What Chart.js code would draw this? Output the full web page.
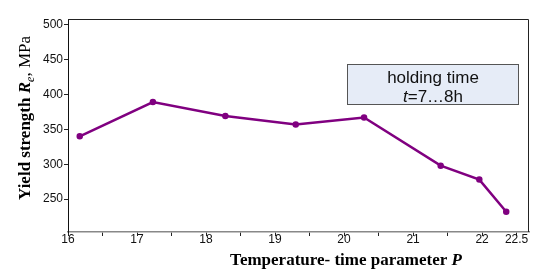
<!DOCTYPE html>
<html>
<head>
<meta charset="utf-8">
<script src="https://cdn.jsdelivr.net/npm/chart.js@4/dist/chart.umd.min.js"></script>
<style>
  body { margin: 0; background: #fff; }
</style>
</head>
<body>
<canvas id="chart" width="534" height="269"></canvas>
<script>
// values
const paramP = [16.17, 17.23, 18.28, 19.30, 20.29, 21.40, 21.96, 22.35];
const yieldStrength = [340, 389, 369, 357, 367, 298, 278, 232];
const yTicks = [250, 300, 350, 400, 450, 500];
const xLabels = [16, 17, 18, 19, 20, 21, 22, 22.5];
const noteLine1 = "holding time";
const noteLine2 = ["t", "=7…8h"];

const serif = '"Liberation Serif", "Times New Roman", serif';
const sans = '"Liberation Sans", Arial, sans-serif';

// draws a run of [text, font, dy] pieces starting at x
function drawRuns(ctx, runs, x, y) {
    runs.forEach(r => {
        ctx.font = r[1];
        ctx.fillText(r[0], x, y + (r[2] || 0));
        x += ctx.measureText(r[0]).width;
    });
}

function runsWidth(ctx, runs) {
    let w = 0;
    runs.forEach(r => {
        ctx.font = r[1];
        w += ctx.measureText(r[0]).width;
    });
    return w;
}

const extras = {
    id: "extras",
    beforeDatasetsDraw(chart) {
        const ctx = chart.ctx;
        const a = chart.chartArea;
        const x = chart.scales.x, y = chart.scales.y;
        ctx.save();

        // top and right frame
        ctx.strokeStyle = "#222";
        ctx.lineWidth = 1;
        ctx.beginPath();
        ctx.moveTo(a.left, a.top + 0.5);
        ctx.lineTo(a.right - 0.5, a.top + 0.5);
        ctx.lineTo(a.right - 0.5, a.bottom);
        ctx.stroke();

        // note box
        const bl = Math.round(x.getPixelForValue(20.04)) + 0.5;
        const br = Math.round(x.getPixelForValue(22.52)) + 0.5;
        const bt = Math.round(y.getPixelForValue(444)) + 0.5;
        const bb = Math.round(y.getPixelForValue(386)) + 0.5;
        ctx.fillStyle = "#e6ecf7";
        ctx.fillRect(bl, bt, br - bl, bb - bt);
        ctx.strokeStyle = "#555";
        ctx.strokeRect(bl, bt, br - bl, bb - bt);

        const cx = (bl + br) / 2;
        ctx.fillStyle = "#111";
        ctx.textBaseline = "alphabetic";
        ctx.textAlign = "center";
        ctx.font = "17px " + sans;
        ctx.fillText(noteLine1, cx, bt + 18);
        const runs2 = [[noteLine2[0], "italic 17px " + sans], [noteLine2[1], "17px " + sans]];
        ctx.textAlign = "left";
        drawRuns(ctx, runs2, cx - runsWidth(ctx, runs2) / 2, bt + 37);

        ctx.restore();
    },
    afterDraw(chart) {
        const ctx = chart.ctx;
        ctx.save();
        ctx.fillStyle = "#000";
        ctx.textAlign = "left";
        ctx.textBaseline = "alphabetic";

        // y title
        const yRuns = [
            ["Yield strength ", "bold 17px " + serif],
            ["R", "bold italic 17px " + serif],
            ["e", "italic 12px " + serif, 4],
            [", MPa", "17px " + serif]
        ];
        ctx.translate(30, 118);
        ctx.rotate(-Math.PI / 2);
        drawRuns(ctx, yRuns, -runsWidth(ctx, yRuns) / 2, 0);
        ctx.restore();

        // x title
        ctx.save();
        ctx.fillStyle = "#000";
        const xRuns = [
            ["Temperature- time parameter ", "bold 17px " + serif],
            ["P", "bold italic 17px " + serif]
        ];
        drawRuns(ctx, xRuns, 346 - runsWidth(ctx, xRuns) / 2, 265);
        ctx.restore();
    }
};

new Chart(document.getElementById("chart"), {
    type: "line",
    data: {
        datasets: [{
            data: paramP.map((p, i) => ({ x: p, y: yieldStrength[i] })),
            borderColor: "#800080",
            backgroundColor: "#800080",
            borderWidth: 2.5,
            pointRadius: 2,
            pointHoverRadius: 2,
            tension: 0
        }]
    },
    options: {
        responsive: false,
        animation: false,
        layout: { padding: { top: 19, right: 5, left: 0, bottom: 0 } },
        plugins: { legend: { display: false }, tooltip: { enabled: false } },
        scales: {
            x: {
                type: "linear",
                min: 16,
                max: 22.68,
                afterBuildTicks(scale) {
                    const t = [];
                    for (let v = 16; v <= 22.5; v += 0.5) t.push({ value: v });
                    scale.ticks = t;
                },
                afterFit(scale) { scale.height = 37; },
                ticks: {
                    autoSkip: false,
                    maxRotation: 0,
                    padding: -4,
                    color: "#111",
                    font: { family: sans, size: 12 },
                    callback: v => xLabels.includes(v) ? String(v) : ""
                },
                grid: { drawOnChartArea: false, drawTicks: true, tickLength: 4, color: "#222" },
                border: { color: "#888", width: 1.5 }
            },
            y: {
                min: 203,
                max: 508,
                afterBuildTicks(scale) {
                    scale.ticks = yTicks.map(v => ({ value: v }));
                },
                afterFit(scale) { scale.width = 68; },
                ticks: {
                    padding: 1,
                    color: "#111",
                    font: { family: sans, size: 12 }
                },
                grid: { drawOnChartArea: false, drawTicks: true, tickLength: 4, color: "#222" },
                border: { color: "#111", width: 1 }
            }
        }
    },
    plugins: [extras]
});
</script>
</body>
</html>
